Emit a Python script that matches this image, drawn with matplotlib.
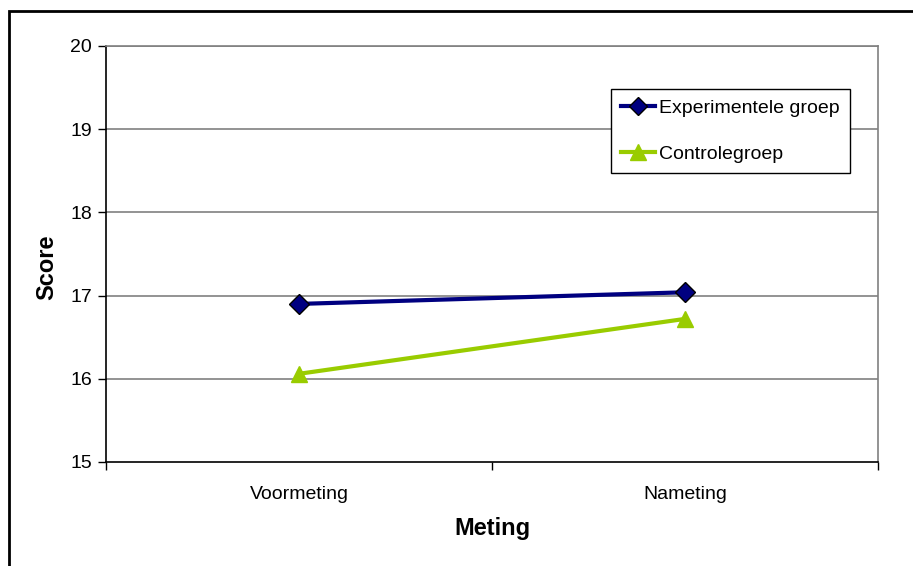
import matplotlib.pyplot as plt
from matplotlib.patches import Rectangle
from matplotlib.lines import Line2D

plt.rcParams['font.family'] = ['Liberation Sans', 'DejaVu Sans']

metingen = ["Voormeting", "Nameting"]
experimentele = [16.90, 17.04]
controle = [16.06, 16.72]
y_ticks = [15, 16, 17, 18, 19, 20]

W, H = 913, 566
fig = plt.figure(figsize=(W / 100, H / 100), dpi=100)
ax = fig.add_axes([106 / W, 1 - 462 / H, 772 / W, 416 / H])

x = range(len(metingen))
ax.plot(x, experimentele, color="#000080", lw=3, marker="D", ms=10,
        mfc="#000080", mec="black", mew=1, label="Experimentele groep",
        zorder=3)
ax.plot(x, controle, color="#99CC00", lw=3, marker="^", ms=12,
        mfc="#99CC00", mec="#99CC00", label="Controlegroep", zorder=3)

ax.set_xlim(-0.5, 1.5)
ax.set_ylim(15, 20)
ax.set_yticks(y_ticks)
ax.set_xticks([-0.5, 0.5, 1.5], minor=False)
ax.set_xticklabels([])
ax.set_xticks(list(x), minor=True)
ax.set_xticklabels(metingen, minor=True)
ax.tick_params(axis="x", which="minor", length=0, pad=17, labelsize=14)
ax.tick_params(axis="x", which="major", length=6, width=1, color="black")
ax.tick_params(axis="y", length=6, width=1, pad=4, labelsize=14)

for v in y_ticks[1:]:
    ax.axhline(v, color="#808080", lw=1.2, zorder=1)

for side in ("top", "right"):
    ax.spines[side].set_color("#808080")
    ax.spines[side].set_linewidth(1.2)
for side in ("left", "bottom"):
    ax.spines[side].set_color("black")
    ax.spines[side].set_linewidth(1.2)

ax.set_xlabel("Meting", fontsize=17, fontweight="bold", labelpad=10)
ax.set_ylabel("Score", fontsize=17, fontweight="bold")
ax.yaxis.set_label_coords((58 - 106) / 772, (462 - 267) / 416)

handles = [
    Line2D([], [], color="#000080", lw=3, marker="D", ms=9,
           mfc="#000080", mec="black"),
    Line2D([], [], color="#99CC00", lw=3, marker="^", ms=11,
           mfc="#99CC00", mec="#99CC00"),
]
leg = ax.legend(handles, ["Experimentele groep", "Controlegroep"],
                loc="upper left", bbox_to_anchor=((611 - 106) / 772, 1 - (89 - 46) / 416),
                fontsize=14, frameon=True, fancybox=False, edgecolor="black",
                framealpha=1, handlelength=1.75, handletextpad=0.2,
                borderpad=0.52, labelspacing=1.47, borderaxespad=0,
                markerscale=1)
leg.get_frame().set_linewidth(1.0)

# outer chart border
fig.patches.append(Rectangle((9 / W, -0.1), 1.2, 1 - 11 / H + 0.1,
                             transform=fig.transFigure, fill=False,
                             edgecolor="black", lw=2))

fig.savefig("out.png", dpi=100)
